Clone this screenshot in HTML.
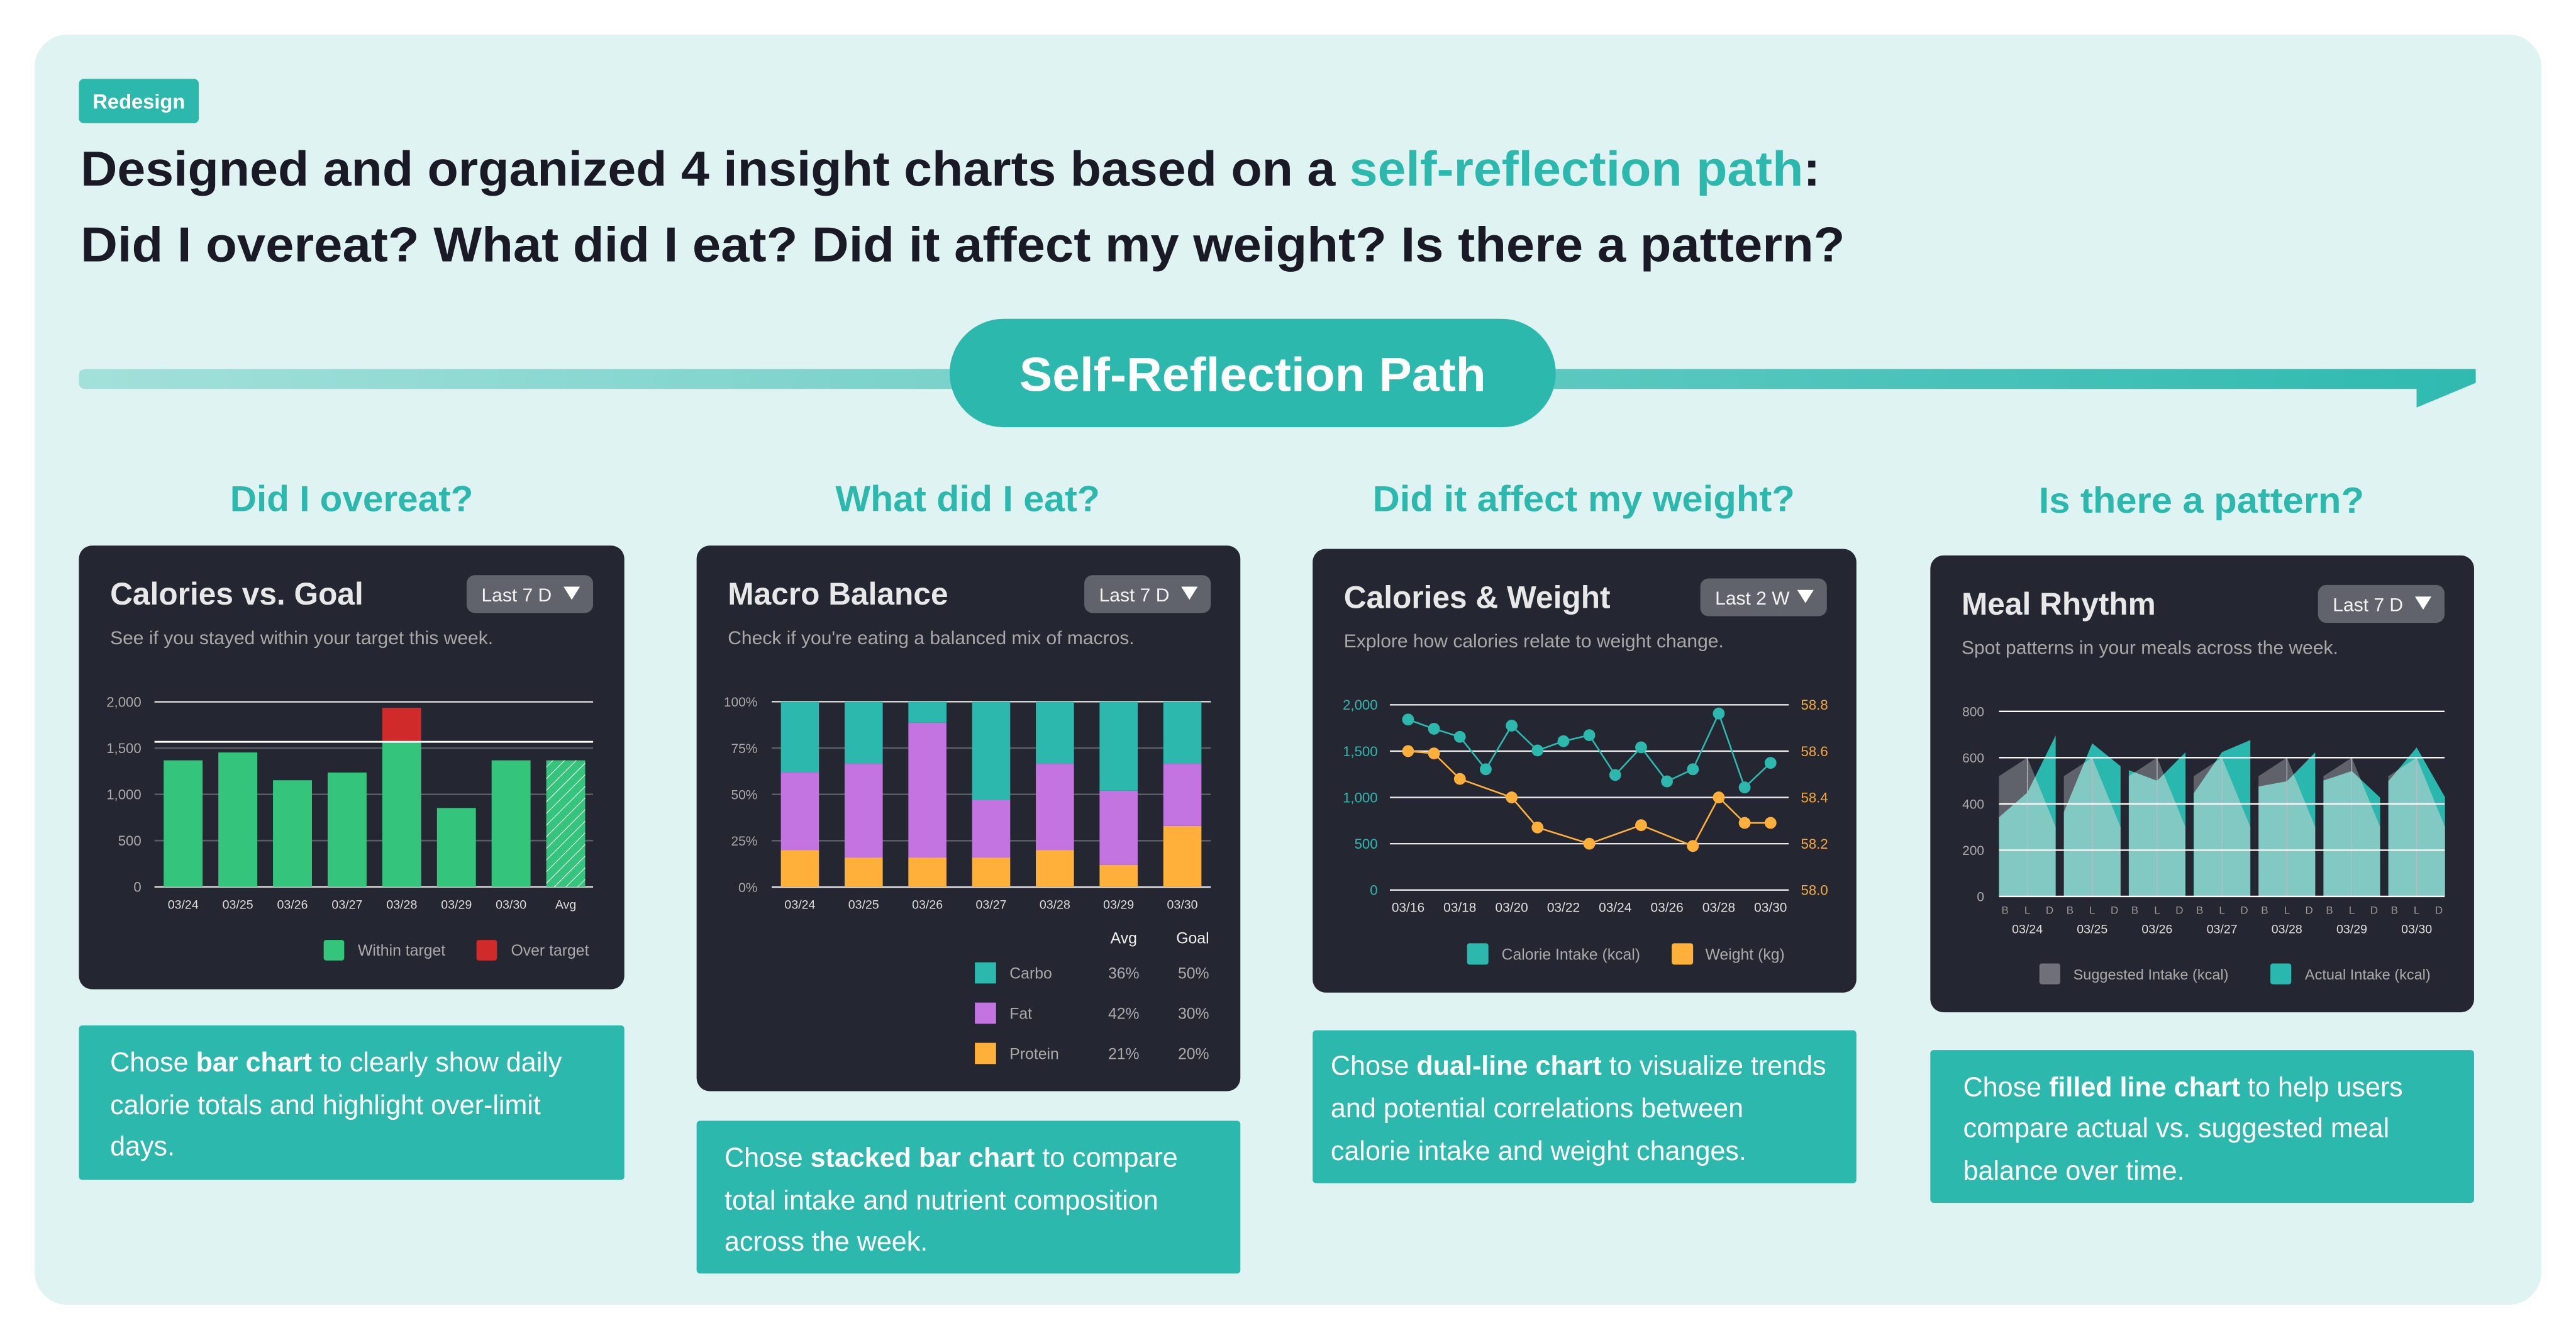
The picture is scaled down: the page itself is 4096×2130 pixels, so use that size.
<!DOCTYPE html>
<html><head><meta charset="utf-8"><style>
html,body{margin:0;padding:0;background:#fff;}
svg{display:block;font-family:"Liberation Sans",Arial,sans-serif;}
</style></head><body>
<svg id="root" width="4096" height="2130" viewBox="0 0 1568 815.43" xmlns="http://www.w3.org/2000/svg">
<defs>
<linearGradient id="pathGrad" x1="0" x2="1" y1="0" y2="0"><stop offset="0" stop-color="#a3e0da"/><stop offset="1" stop-color="#2fbab0"/></linearGradient>
<pattern id="hatch" width="5" height="5" patternUnits="userSpaceOnUse" patternTransform="rotate(45)"><rect width="5" height="5" fill="#34c47c"/><line x1="0" y1="0" x2="0" y2="5" stroke="#ffffff" stroke-width="0.8"/></pattern>
</defs>
<rect x="21" y="21" width="1526" height="773" rx="20" fill="#dff4f2"/>
<rect x="48" y="48" width="73" height="27" rx="3" fill="#2db8ae"/>
<text x="84.5" y="66" text-anchor="middle" font-size="12.5" font-weight="bold" fill="#fff">Redesign</text>
<text x="49" y="113" font-size="30" font-weight="bold" fill="#1a1a26" textLength="1059" lengthAdjust="spacingAndGlyphs">Designed and organized 4 insight charts based on a <tspan fill="#2db8ae">self-reflection path</tspan>:</text>
<text x="49" y="159" font-size="30" font-weight="bold" fill="#1a1a26" textLength="1074" lengthAdjust="spacingAndGlyphs">Did I overeat? What did I eat? Did it affect my weight? Is there a pattern?</text>
<path d="M52,224.6 L1507,224.6 L1507,233 L1471,248 L1471,236.7 L52,236.7 Q48,236.7 48,232.7 L48,228.6 Q48,224.6 52,224.6 Z" fill="url(#pathGrad)"/>
<rect x="578" y="194" width="369" height="66" rx="33" fill="#2db8ae"/>
<text x="762.5" y="238" text-anchor="middle" font-size="29" font-weight="bold" fill="#fff" textLength="284" lengthAdjust="spacingAndGlyphs">Self-Reflection Path</text>
<text x="214" y="311" text-anchor="middle" font-size="22" font-weight="bold" fill="#2db8ae" textLength="148" lengthAdjust="spacingAndGlyphs">Did I overeat?</text>
<text x="589" y="311" text-anchor="middle" font-size="22" font-weight="bold" fill="#2db8ae" textLength="161" lengthAdjust="spacingAndGlyphs">What did I eat?</text>
<text x="964" y="311" text-anchor="middle" font-size="22" font-weight="bold" fill="#2db8ae" textLength="257" lengthAdjust="spacingAndGlyphs">Did it affect my weight?</text>
<text x="1340" y="312" text-anchor="middle" font-size="22" font-weight="bold" fill="#2db8ae" textLength="198" lengthAdjust="spacingAndGlyphs">Is there a pattern?</text>

<rect x="48" y="624" width="332" height="94" rx="2" fill="#2db8ae"/>
<text font-size="16.5" fill="#fff"><tspan x="67" y="652">Chose <tspan font-weight="bold">bar chart</tspan> to clearly show daily</tspan><tspan x="67" y="678">calorie totals and highlight over-limit</tspan><tspan x="67" y="703">days.</tspan></text>
<rect x="424" y="682" width="331" height="93" rx="2" fill="#2db8ae"/>
<text font-size="16.5" fill="#fff"><tspan x="441" y="710">Chose <tspan font-weight="bold">stacked bar chart</tspan> to compare</tspan><tspan x="441" y="736">total intake and nutrient composition</tspan><tspan x="441" y="761">across the week.</tspan></text>
<rect x="799" y="627" width="331" height="93" rx="2" fill="#2db8ae"/>
<text font-size="16.5" fill="#fff"><tspan x="810" y="654">Chose <tspan font-weight="bold">dual-line chart</tspan> to visualize trends</tspan><tspan x="810" y="680">and potential correlations between</tspan><tspan x="810" y="706">calorie intake and weight changes.</tspan></text>
<rect x="1175" y="639" width="331" height="93" rx="2" fill="#2db8ae"/>
<text font-size="16.5" fill="#fff"><tspan x="1195" y="667">Chose <tspan font-weight="bold">filled line chart</tspan> to help users</tspan><tspan x="1195" y="692">compare actual vs. suggested meal</tspan><tspan x="1195" y="718">balance over time.</tspan></text>

<g id="charts"></g>
</svg>
<script>
// ---- Chart 1 data ----
const calCategories = ['03/24','03/25','03/26','03/27','03/28','03/29','03/30','Avg'];
const calValues = [1368,1453,1153,1236,1936,853,1368,1368];
const calGoal = 1568;
const calTicks = [0,500,1000,1500,2000];
const calTickLabels = ['0','500','1,000','1,500','2,000'];
// ---- Chart 2 data ----
const macroDays = ['03/24','03/25','03/26','03/27','03/28','03/29','03/30'];
const proteinPct = [20,16,16,16,20,12,33];
const fatPct = [42,50.5,72.7,31,46.5,40,33.5];
const carboPct = [38,33.5,11.3,53,33.5,48,33.5];
const macroTicks = [0,25,50,75,100];
const macroNames = ['Carbo','Fat','Protein'];
const macroAvg = ['36%','42%','21%'];
const macroGoal = ['50%','30%','20%'];
// ---- Chart 3 data ----
const cwDates = ['03/16','03/17','03/18','03/19','03/20','03/21','03/22','03/23','03/24','03/25','03/26','03/27','03/28','03/29','03/30'];
const cwCalories = [1841,1741,1654,1304,1775,1507,1607,1672,1242,1541,1173,1304,1906,1108,1373];
const cwWeight = [58.60,58.59,58.48,null,58.40,58.27,null,58.20,null,58.28,null,58.19,58.40,58.29,58.29];
const cwCalTicks = [0,500,1000,1500,2000];
const cwCalTickLabels = ['0','500','1,000','1,500','2,000'];
const cwWeightTicks = ['58.0','58.2','58.4','58.6','58.8'];
// ---- Chart 4 data ----
const mealDays = ['03/24','03/25','03/26','03/27','03/28','03/29','03/30'];
const mealSlots = ['B','L','D'];
const suggestedB = [520,520,520,520,520,520,520];
const suggestedL = [600,600,600,600,600,600,600];
const suggestedD = [300,300,300,300,300,300,300];
const actualB = [342,364,546,445,475,501,498];
const actualL = [449,662,500,624,498,542,644];
const actualD = [696,563,623,676,623,427,429];
const mealTicks = [0,200,400,600,800];

const NS='http://www.w3.org/2000/svg';
const G=document.getElementById('charts');
function mk(tag,attrs,parent){const e=document.createElementNS(NS,tag);for(const k in attrs)e.setAttribute(k,attrs[k]);(parent||G).appendChild(e);return e;}
function txt(x,y,s,attrs,parent){const e=mk('text',Object.assign({x:x,y:y},attrs),parent);e.textContent=s;return e;}

function card(x,y,w,h,title,sub,dd,key){
  const r=mk('rect',{x:x,y:y,width:w,height:h,rx:8,fill:'#242631'});
  
  
  const t=txt(x+19,y+36,title,{'font-size':19,'font-weight':'bold',fill:'#e8e8e8'});
  
  
  const d=mk('rect',{x:x+236,y:y+18,width:77,height:23,rx:5,fill:'#60636b'});
  
  
  const dt=txt(x+245,y+34,dd,{'font-size':11.5,fill:'#f2f2f2'});
  
  
  const tri=mk('path',{d:`M${x+295},${y+25} L${x+305},${y+25} L${x+300},${y+33} Z`,fill:'#fff'});
  
  
  const s=txt(x+19,y+60,sub,{'font-size':11.5,fill:'#a8a8a8'});
  
  
}

// ===== Chart 1 =====
card(48,332,332,270,'Calories vs. Goal','See if you stayed within your target this week.','Last 7 D','calories-goal');
(function(){
  const y=v=>539.7-v/2000*112.6, x=i=>99.6+i*33.27, bw=23.7;
  calTicks.forEach((t,i)=>{
    const l=mk('line',{x1:94,x2:361,y1:y(t),y2:y(t),stroke:(t===0||t===2000)?'#e8e8e8':'#5a5c64','stroke-width':(t===0||t===2000)?0.9:1});
    
    
    const lb=txt(86,y(t)+3,calTickLabels[i],{'font-size':8.5,fill:'#aaa','text-anchor':'end'});
    
    
  });
  calValues.forEach((v,i)=>{
    const isAvg=calCategories[i]==='Avg';
    const within=Math.min(v,calGoal);
    const b=mk('rect',{x:x(i),y:y(within),width:bw,height:y(0)-y(within),fill:isAvg?'url(#hatch)':'#34c47c'});
    
    
    if(v>calGoal){
      const rb=mk('rect',{x:x(i),y:y(v),width:bw,height:y(calGoal)-y(v),fill:'#d12a2a'});
      
      
    }
    const lb=txt(x(i)+bw/2,553,calCategories[i],{'font-size':7.5,fill:'#ddd','text-anchor':'middle'});
    
    
  });
  const g=mk('line',{x1:94,x2:361,y1:y(calGoal),y2:y(calGoal),stroke:'#ffffff','stroke-width':1.1});
  
  
  const s1=mk('rect',{x:197,y:572,width:12.5,height:12.5,rx:1.5,fill:'#34c47c'});
  
  
  const t1=txt(217.8,581.5,'Within target',{'font-size':9.5,fill:'#aaa'});
  
  
  const s2=mk('rect',{x:290,y:572,width:12.5,height:12.5,rx:1.5,fill:'#d12a2a'});
  
  
  const t2=txt(311,581.5,'Over target',{'font-size':9.5,fill:'#aaa'});
  
  
})();

// ===== Chart 2 =====
card(424,332,331,332,'Macro Balance',"Check if you're eating a balanced mix of macros.",'Last 7 D','macro-balance');
(function(){
  const y=p=>539.8-p/100*112.8, x=i=>475.3+i*38.8, bw=23.2;
  macroTicks.forEach(t=>{
    const l=mk('line',{x1:469.7,x2:737,y1:y(t),y2:y(t),stroke:(t===0||t===100)?'#e8e8e8':'#5a5c64','stroke-width':(t===0||t===100)?0.9:1});
    
    
    const lb=txt(461,y(t)+3,t+'%',{'font-size':8,fill:'#aaa','text-anchor':'end'});
    
    
  });
  const cols={protein:'#ffb03b',fat:'#c374e0',carbo:'#2db8ae'};
  macroDays.forEach((d,i)=>{
    let base=0;
    [['protein',proteinPct[i]],['fat',fatPct[i]],['carbo',carboPct[i]]].forEach(([k,v])=>{
      const r=mk('rect',{x:x(i),y:y(base+v),width:bw,height:y(base)-y(base+v),fill:cols[k]});
      
      
      base+=v;
    });
    const lb=txt(x(i)+bw/2,553,d,{'font-size':7.5,fill:'#ddd','text-anchor':'middle'});
    
    
  });
  const h1=txt(684,574,'Avg',{'font-size':9.5,fill:'#eee','text-anchor':'middle'});
  
  
  const h2=txt(736,574,'Goal',{'font-size':9.5,fill:'#eee','text-anchor':'end'});
  
  
  const swc=['#2db8ae','#c374e0','#ffb03b'];
  const rowY=[592,616.5,641];
  macroNames.forEach((n,i)=>{
    const sw=mk('rect',{x:593.4,y:rowY[i]-6.4,width:12.9,height:12.9,fill:swc[i]});
    
    
    const t=txt(614.5,rowY[i]+3.5,n,{'font-size':9.5,fill:'#aaa'});
    
    
    const a=txt(684,rowY[i]+3.5,macroAvg[i],{'font-size':9.5,fill:'#aaa','text-anchor':'middle'});
    
    
    const g=txt(736,rowY[i]+3.5,macroGoal[i],{'font-size':9.5,fill:'#aaa','text-anchor':'end'});
    
    
  });
})();

// ===== Chart 3 =====
card(799,334,331,270,'Calories & Weight','Explore how calories relate to weight change.','Last 2 W','calories-weight');
(function(){
  const x=i=>857.1+i*15.76, yL=v=>541.6-v/2000*112.7, yR=w=>541.6-(w-58)/0.8*112.7;
  cwCalTicks.forEach((t,i)=>{
    const l=mk('line',{x1:846,x2:1088.8,y1:yL(t),y2:yL(t),stroke:'#e8e8e8','stroke-width':0.9});
    
    
    const lb=txt(838.6,yL(t)+3,cwCalTickLabels[i],{'font-size':8.5,fill:'#2db8ae','text-anchor':'end'});
    
    
    const rb=txt(1096.2,yL(t)+3,cwWeightTicks[i],{'font-size':8.5,fill:'#f5a93a'});
    
    
  });
  cwDates.forEach((d,i)=>{
    if(i%2===0){
      const lb=txt(x(i),555,d,{'font-size':8,fill:'#ddd','text-anchor':'middle'});
      
      
    }
  });
  const wp=[];cwWeight.forEach((w,i)=>{if(w!==null)wp.push([x(i),yR(w)]);});
  const wl=mk('polyline',{points:wp.map(p=>p.join(',')).join(' '),fill:'none',stroke:'#ffb03b','stroke-width':1});
  
  
  const cl=mk('polyline',{points:cwCalories.map((v,i)=>x(i)+','+yL(v)).join(' '),fill:'none',stroke:'#2db8ae','stroke-width':1});
  
  
  wp.forEach(p=>{
    const c=mk('circle',{cx:p[0],cy:p[1],r:3.6,fill:'#ffb03b'});
    
    
  });
  cwCalories.forEach((v,i)=>{
    const c=mk('circle',{cx:x(i),cy:yL(v),r:3.6,fill:'#2db8ae'});
    
    
  });
  const s1=mk('rect',{x:893,y:574,width:13,height:13,rx:1.5,fill:'#2db8ae'});
  
  
  const t1=txt(914,584,'Calorie Intake (kcal)',{'font-size':9.5,fill:'#aaa'});
  
  
  const s2=mk('rect',{x:1017.6,y:574,width:13,height:13,rx:1.5,fill:'#ffb03b'});
  
  
  const t2=txt(1038,584,'Weight (kg)',{'font-size':9.5,fill:'#aaa'});
  
  
})();

// ===== Chart 4 =====
card(1175,338,331,278,'Meal Rhythm','Spot patterns in your meals across the week.','Last 7 D','meal-rhythm');
(function(){
  const x=(g,m)=>1216.8+g*39.5+m*17.25, y=v=>545.5-v/800*112.6;
  const labelOffset=[3.7,0,-3.7];
  const defs=document.querySelector('defs');
  mealDays.forEach((d,g)=>{
    const sug=[suggestedB[g],suggestedL[g],suggestedD[g]];
    const act=[actualB[g],actualL[g],actualD[g]];
    const poly=arr=>arr.map((v,m)=>x(g,m)+','+y(v)).join(' ')+' '+x(g,2)+','+y(0)+' '+x(g,0)+','+y(0);
    const sp=mk('polygon',{points:poly(sug),fill:'#5f616b'});
    
    
    const ap=mk('polygon',{points:poly(act),fill:'#2ab7ad'});
    
    
    const cp=document.createElementNS(NS,'clipPath');cp.setAttribute('id','clipS'+g);defs.appendChild(cp);
    mk('polygon',{points:poly(sug)},cp);
    const ov=mk('polygon',{points:poly(act),fill:'#82c8c3','clip-path':'url(#clipS'+g+')'});
    
    
    const vl=mk('line',{x1:x(g,1),x2:x(g,1),y1:y(sug[1]),y2:y(0),stroke:'#b8bcc4','stroke-width':0.5});
    
    
    mealSlots.forEach((s,m)=>{
      const t=txt(x(g,m)+labelOffset[m],556,s,{'font-size':6.5,fill:'#999','text-anchor':'middle'});
      
      
    });
    const dl=txt(x(g,1),568,d,{'font-size':7.5,fill:'#ddd','text-anchor':'middle'});
    
    
  });
  mealTicks.forEach(t=>{
    const l=mk('line',{x1:1216.8,x2:1488,y1:y(t),y2:y(t),stroke:'#ffffff','stroke-width':0.9});
    
    
    const lb=txt(1207.8,y(t)+3,String(t),{'font-size':8,fill:'#aaa','text-anchor':'end'});
    
    
  });
  const s1=mk('rect',{x:1241.4,y:586.3,width:12.7,height:12.7,rx:1.5,fill:'#6f7079'});
  
  
  const t1=txt(1262,596,'Suggested Intake (kcal)',{'font-size':9,fill:'#aaa'});
  
  
  const s2=mk('rect',{x:1382,y:586.3,width:12.7,height:12.7,rx:1.5,fill:'#2ab7ad'});
  
  
  const t2=txt(1403,596,'Actual Intake (kcal)',{'font-size':9,fill:'#aaa'});
  
  
})();
</script>
</body></html>
